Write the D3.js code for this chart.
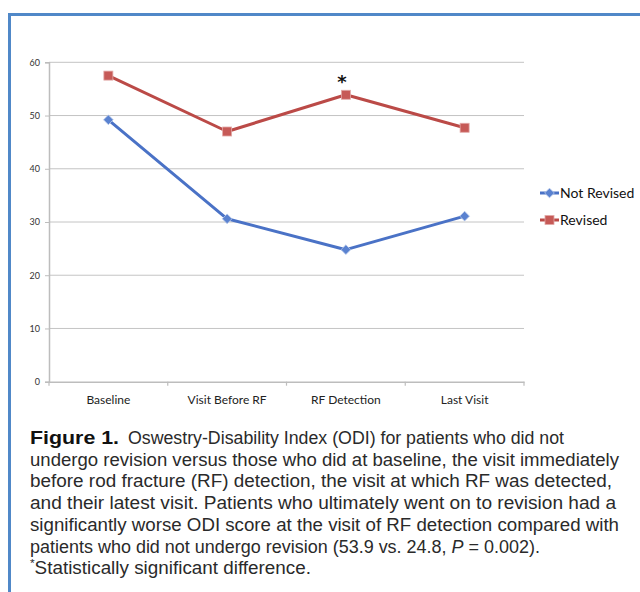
<!DOCTYPE html>
<html><head><meta charset="utf-8">
<script src="https://cdn.jsdelivr.net/npm/d3@7"></script>
<style>html,body{margin:0;padding:0;background:#fff;}svg{display:block;}</style>
</head><body>
<script>
const categories = ["Baseline", "Visit Before RF", "RF Detection", "Last Visit"];
const notRevised = [49.2, 30.6, 24.8, 31.1];
const revised = [57.5, 47.0, 53.9, 47.7];
const yTicks = [0, 10, 20, 30, 40, 50, 60];
const seriesNames = ["Not Revised", "Revised"];
const captionLines = [
  "Oswestry-Disability Index (ODI) for patients who did not",
  "undergo revision versus those who did at baseline, the visit immediately",
  "before rod fracture (RF) detection, the visit at which RF was detected,",
  "and their latest visit. Patients who ultimately went on to revision had a",
  "significantly worse ODI score at the visit of RF detection compared with"
];

const W = 640, H = 592;
const svg = d3.select("body").append("svg").attr("width", W).attr("height", H);

// frame
svg.append("rect").attr("x", 8).attr("y", 13).attr("width", 3).attr("height", H - 13).attr("fill", "#5088c8");
svg.append("rect").attr("x", 8).attr("y", 13).attr("width", W - 8).attr("height", 3).attr("fill", "#5088c8");

const x = d3.scaleBand().domain(categories).range([49, 524]).padding(0);
const y = d3.scaleLinear().domain([0, 60]).range([381.7, 62.3]);
const cx = c => x(c) + x.bandwidth() / 2;

// gridlines
svg.append("g").selectAll("line").data(yTicks.filter(d => d > 0)).join("line")
  .attr("x1", 49).attr("x2", 524).attr("y1", d => y(d)).attr("y2", d => y(d))
  .attr("stroke", "#c4c4c4").attr("stroke-width", 1);

// y axis
const yAxis = svg.append("g").attr("transform", "translate(49,0)")
  .call(d3.axisLeft(y).tickValues(yTicks).tickSize(4).tickPadding(5));
yAxis.select(".domain").attr("stroke", "#bdbdbd").attr("stroke-width", 1.5);
yAxis.selectAll(".tick line").attr("stroke", "#bdbdbd");
yAxis.selectAll("text").attr("font-family", "Lato, 'Open Sans', sans-serif").attr("font-size", 9).attr("fill", "#333");

// x axis
const xAxis = svg.append("g").attr("transform", `translate(0,${y(0)})`)
  .call(d3.axisBottom(x).tickSize(0).tickPadding(14));
xAxis.select(".domain").attr("stroke", "#bdbdbd").attr("stroke-width", 1.5);
xAxis.selectAll("text").attr("font-family", "Lato, 'Open Sans', sans-serif").attr("font-size", 12).attr("fill", "#222");
svg.append("g").selectAll("line").data(categories.map(c => x(c) + x.bandwidth()).concat([x(categories[0])])).join("line")
  .attr("x1", d => d).attr("x2", d => d).attr("y1", y(0)).attr("y2", y(0) + 4)
  .attr("stroke", "#bdbdbd").attr("stroke-width", 1.2);

const line = d3.line().x((d, i) => cx(categories[i])).y(d => y(d));
const colors = ["#4a72c6", "#bb4a47"];
const data = [notRevised, revised];

data.forEach((vals, k) => {
  svg.append("path").datum(vals).attr("d", line).attr("fill", "none")
    .attr("stroke", colors[k]).attr("stroke-width", 3).attr("stroke-linejoin", "round");
});

function marker(g, k, px, py) {
  if (k === 0) {
    g.append("path").attr("d", d3.symbol(d3.symbolDiamond2, 60)())
      .attr("transform", `translate(${px},${py})`).attr("fill", "#5a82d0").attr("stroke", "#b9c9ea").attr("stroke-width", 0.8);
  } else {
    g.append("rect").attr("x", px - 4.5).attr("y", py - 4.5).attr("width", 9).attr("height", 9)
      .attr("fill", "#c65a57").attr("stroke", "#e2a9a7").attr("stroke-width", 0.8);
  }
}
data.forEach((vals, k) => {
  const g = svg.append("g");
  vals.forEach((v, i) => marker(g, k, cx(categories[i]), y(v)));
});

// significance star
svg.append("text").attr("x", cx(categories[2]) - 4).attr("y", y(revised[2]) - 7)
  .attr("text-anchor", "middle").attr("font-family", "'DejaVu Sans', sans-serif").attr("font-size", 18)
  .attr("font-weight", "bold").attr("fill", "#111").text("*");

// legend
seriesNames.forEach((n, k) => {
  const ly = 193 + k * 27;
  svg.append("line").attr("x1", 540).attr("x2", 559).attr("y1", ly).attr("y2", ly)
    .attr("stroke", colors[k]).attr("stroke-width", 3);
  marker(svg, k, 549.5, ly);
  svg.append("text").attr("x", 560).attr("y", ly + 5).attr("font-family", "Lato, 'Open Sans', sans-serif")
    .attr("font-size", 14).attr("fill", "#111").text(n);
});

// caption
const capFont = "'Liberation Sans', Arial, sans-serif";
const capCol = "#2a2a2a";
const lh = 21.7, y0 = 444;
svg.append("text").attr("x", 30).attr("y", y0).attr("font-family", "'Liberation Sans Narrow', 'Liberation Sans', sans-serif")
  .attr("font-weight", "bold").attr("font-size", 19).attr("fill", "#111").attr("textLength", 89).attr("lengthAdjust", "spacingAndGlyphs").text("Figure 1.");
const ends = [564, 619, 612, 616, 619];
captionLines.forEach((t, i) => {
  const sx = i === 0 ? 128 : 30;
  svg.append("text").attr("x", sx).attr("y", y0 + i * lh).attr("font-family", capFont)
    .attr("font-size", 17.5).attr("fill", capCol)
    .attr("textLength", ends[i] - sx).attr("lengthAdjust", "spacingAndGlyphs").text(t);
});
const l6 = svg.append("text").attr("x", 30).attr("y", y0 + 5 * lh).attr("font-family", capFont)
  .attr("font-size", 17.5).attr("fill", capCol).attr("textLength", 510).attr("lengthAdjust", "spacingAndGlyphs");
l6.append("tspan").text("patients who did not undergo revision (53.9 vs. 24.8, ");
l6.append("tspan").attr("font-style", "italic").text("P");
l6.append("tspan").text(" = 0.002).");
const l7 = svg.append("text").attr("x", 30).attr("y", y0 + 6 * lh).attr("font-family", capFont)
  .attr("font-size", 17.5).attr("fill", capCol).attr("textLength", 281).attr("lengthAdjust", "spacingAndGlyphs");
l7.append("tspan").attr("font-size", 11).attr("dy", -7).text("*");
l7.append("tspan").attr("dy", 7).text("Statistically significant difference.");
</script>
</body></html>
